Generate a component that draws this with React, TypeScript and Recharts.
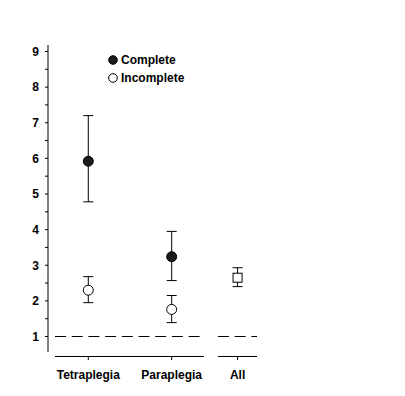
import React from "react";
import {
  ComposedChart,
  Scatter,
  ErrorBar,
  XAxis,
  YAxis,
  ReferenceLine,
} from "recharts";

// group labels and where they sit on the (broken) x axis
const categories = ["Tetraplegia", "Paraplegia", "All"];
const categoryPos = [0, 1, 1.79];

// complete injuries: mean with lower / upper bound
const completeMean = [5.92, 3.24];
const completeLow = [4.78, 2.57];
const completeHigh = [7.2, 3.95];

// incomplete injuries
const incompleteMean = [2.3, 1.76];
const incompleteLow = [1.95, 1.39];
const incompleteHigh = [2.68, 2.15];

// all patients
const allMean = [2.65];
const allLow = [2.4];
const allHigh = [2.93];

const yTicks = [1, 1.5, 2, 2.5, 3, 3.5, 4, 4.5, 5, 5.5, 6, 6.5, 7, 7.5, 8, 8.5, 9];
const refValue = 1;

// broken x-axis pieces, in data units
const axisPieces = [
  [-0.399, 1.387],
  [1.555, 2.023],
];
const axisLevel = 0.439;

const legendItems = [
  { name: "Complete", filled: true },
  { name: "Incomplete", filled: false },
];

const FONT = "'Liberation Sans', Arial, sans-serif";

function toRows(mean: number[], low: number[], high: number[], offset: number) {
  return mean.map((m, i) => ({
    x: categoryPos[i + offset],
    y: m,
    err: [m - low[i], high[i] - m],
  }));
}

const completeRows = toRows(completeMean, completeLow, completeHigh, 0);
const incompleteRows = toRows(incompleteMean, incompleteLow, incompleteHigh, 0);
const allRows = toRows(allMean, allLow, allHigh, 2);

const FilledDot = (p: any) => <circle cx={p.cx} cy={p.cy} r={5} fill="#1a1a1a" stroke="#000" />;
const OpenDot = (p: any) => <circle cx={p.cx} cy={p.cy} r={5} fill="#fff" stroke="#000" />;
const OpenSquare = (p: any) => (
  <rect x={p.cx - 4.5} y={p.cy - 4.5} width={9} height={9} fill="#fff" stroke="#000" />
);

const XTick = (p: any) => {
  const idx = categoryPos.indexOf(p.payload.value);
  return (
    <g>
      <line x1={p.x} x2={p.x} y1={p.y + 4.5} y2={p.y + 8} stroke="#000" />
      <text
        x={p.x}
        y={p.y + 27}
        textAnchor="middle"
        fontSize={12}
        fontWeight="bold"
        fontFamily={FONT}
        fill="#000"
      >
        {categories[idx]}
      </text>
    </g>
  );
};

const LegendBox = () => (
  <div
    style={{
      position: "absolute",
      left: 108,
      top: 51,
      fontFamily: FONT,
      fontSize: 12,
      fontWeight: "bold",
      color: "#000",
    }}
  >
    {legendItems.map((it) => (
      <div key={it.name} style={{ display: "flex", alignItems: "center", height: 18 }}>
        <svg width={10} height={10} style={{ marginRight: 3 }}>
          <circle cx={5} cy={5} r={4.3} fill={it.filled ? "#1a1a1a" : "#fff"} stroke="#000" />
        </svg>
        {it.name}
      </div>
    ))}
  </div>
);

export default function App() {
  return (
    <div style={{ position: "absolute", left: 0, top: 0, width: 405, height: 396, background: "#fff" }}>
      <ComposedChart
        width={405}
        height={396}
        margin={{ top: 45, right: 145, bottom: 0, left: 0 }}
      >
        <XAxis
          type="number"
          dataKey="x"
          domain={[-0.483, 2.059]}
          ticks={categoryPos}
          axisLine={false}
          tickLine={false}
          tickSize={0}
          tickMargin={0}
          height={44}
          tick={<XTick />}
          allowDataOverflow
        />
        <YAxis
          type="number"
          dataKey="y"
          domain={[0.565, 9.182]}
          ticks={yTicks}
          width={48}
          tickSize={3}
          tickMargin={6}
          allowDataOverflow
          stroke="#000"
          tickFormatter={(v: number) => (Number.isInteger(v) ? String(v) : "")}
          tick={{ fill: "#000", fontSize: 12, fontWeight: "bold", fontFamily: FONT }}
        />
        {axisPieces.map(([a, b], i) => (
          <ReferenceLine
            key={"ax" + i}
            segment={[
              { x: a, y: axisLevel },
              { x: b, y: axisLevel },
            ]}
            stroke="#000"
            ifOverflow="visible"
          />
        ))}
        {axisPieces.map(([a, b], i) => (
          <ReferenceLine
            key={"ref" + i}
            segment={[
              { x: a, y: refValue },
              { x: b, y: refValue },
            ]}
            stroke="#000"
            strokeDasharray="11 5.7"
            ifOverflow="visible"
          />
        ))}
        <Scatter name="Complete" data={completeRows} shape={FilledDot} isAnimationActive={false}>
          <ErrorBar dataKey="err" direction="y" width={5} stroke="#000" strokeWidth={1} />
        </Scatter>
        <Scatter name="Incomplete" data={incompleteRows} shape={OpenDot} isAnimationActive={false}>
          <ErrorBar dataKey="err" direction="y" width={5} stroke="#000" strokeWidth={1} />
        </Scatter>
        <Scatter name="All" data={allRows} shape={OpenSquare} isAnimationActive={false}>
          <ErrorBar dataKey="err" direction="y" width={5} stroke="#000" strokeWidth={1} />
        </Scatter>
      </ComposedChart>
      <LegendBox />
    </div>
  );
}
